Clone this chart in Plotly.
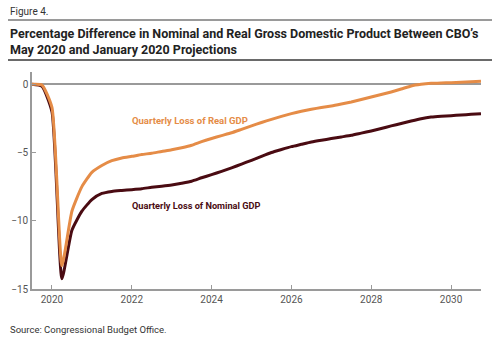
import plotly.graph_objects as go

# Quarterly observations, 2019 Q3 through 2030 Q4 (decimal years)
quarters = [2019.5 + 0.25 * i for i in range(46)]

real_gdp_loss = [
    0.0, -0.05,
    -1.7, -13.3, -9.3, -7.5,
    -6.45, -5.95, -5.6, -5.4,
    -5.28, -5.15, -5.05, -4.92,
    -4.8, -4.65, -4.47, -4.2,
    -3.97, -3.76, -3.55, -3.3,
    -3.05, -2.8, -2.57, -2.35,
    -2.15, -1.98, -1.83, -1.7,
    -1.59, -1.45, -1.3, -1.12,
    -0.93, -0.75, -0.56, -0.35,
    -0.12, 0.0, 0.07, 0.1,
    0.12, 0.15, 0.18, 0.22,
]

nominal_gdp_loss = [
    0.0, -0.15,
    -2.0, -14.25, -10.7, -9.3,
    -8.45, -8.0, -7.85, -7.78,
    -7.72, -7.65, -7.55, -7.47,
    -7.38, -7.25, -7.1, -6.85,
    -6.62, -6.38, -6.12, -5.85,
    -5.57, -5.28, -5.0, -4.78,
    -4.57, -4.4, -4.23, -4.1,
    -3.98, -3.86, -3.74, -3.58,
    -3.42, -3.24, -3.05, -2.87,
    -2.69, -2.52, -2.4, -2.34,
    -2.3, -2.25, -2.2, -2.15,
]

x_ticks = [2020, 2022, 2024, 2026, 2028, 2030]
y_ticks = [0, -5, -10, -15]

ORANGE = "#E58C47"
MAROON = "#4A0B12"
GRID = "#9a9a9a"

W, H = 500, 337
L, R, T, B = 32, 19, 72, 48


def px(xp):
    return (xp - L) / (W - L - R)


def py(yp):
    return (H - B - yp) / (H - T - B)


fig = go.Figure()
fig.add_trace(go.Scatter(x=quarters, y=nominal_gdp_loss, mode="lines",
                         line=dict(color=MAROON, width=3, shape="spline", smoothing=0.5),
                         hoverinfo="skip"))
fig.add_trace(go.Scatter(x=quarters, y=real_gdp_loss, mode="lines",
                         line=dict(color=ORANGE, width=3, shape="spline", smoothing=0.5),
                         hoverinfo="skip"))

font = "Roboto, Arial, sans-serif"

fig.update_layout(
    width=W, height=H,
    margin=dict(l=L, r=R, t=T, b=B),
    paper_bgcolor="white", plot_bgcolor="white",
    showlegend=False,
    font=dict(family=font, color="#555555", size=10),
    xaxis=dict(
        range=[2019.5, 2030.75], tickvals=x_ticks,
        showgrid=False, zeroline=False,
        showline=True, linecolor=GRID, linewidth=1.5,
        ticks="inside", ticklen=4, tickcolor=GRID, tickwidth=1,
        tickfont=dict(size=10, color="#555555"),
    ),
    yaxis=dict(
        range=[-15, 0.9], tickvals=y_ticks,
        showgrid=False, zeroline=True, zerolinecolor=GRID, zerolinewidth=1.5,
        showline=True, linecolor=GRID, linewidth=1.5,
        ticks="inside", ticklen=4, tickcolor=GRID, tickwidth=1,
        tickfont=dict(size=10, color="#555555"),
    ),
)

# Header rules
fig.add_shape(type="line", xref="paper", yref="paper",
              x0=px(8), x1=px(492), y0=py(20), y1=py(20),
              line=dict(color="#9a9a9a", width=2))
fig.add_shape(type="line", xref="paper", yref="paper",
              x0=px(8), x1=px(492), y0=py(60), y1=py(60),
              line=dict(color="#6a6a6a", width=2))

fig.add_annotation(text="Figure 4.", xref="paper", yref="paper",
                   x=px(8), y=py(11), xanchor="left", yanchor="middle",
                   showarrow=False, font=dict(size=10, color="#333333", family=font))
fig.add_annotation(
    text="<b>Percentage Difference in Nominal and Real Gross Domestic Product Between CBO’s<br>"
         "May 2020 and January 2020 Projections</b>",
    xref="paper", yref="paper", x=px(8), y=py(41), xanchor="left", yanchor="middle",
    align="left", showarrow=False,
    font=dict(size=12.5, color="#222222", family=font))

fig.add_annotation(text="<b>Quarterly Loss of Real GDP</b>", xref="paper", yref="paper",
                   x=px(130), y=py(120), xanchor="left", yanchor="middle",
                   showarrow=False, font=dict(size=9.5, color=ORANGE, family=font))
fig.add_annotation(text="<b>Quarterly Loss of Nominal GDP</b>", xref="paper", yref="paper",
                   x=px(130), y=py(205), xanchor="left", yanchor="middle",
                   showarrow=False, font=dict(size=9.2, color=MAROON, family=font))

fig.add_annotation(text="Source: Congressional Budget Office.", xref="paper", yref="paper",
                   x=px(8), y=py(329), xanchor="left", yanchor="middle",
                   showarrow=False, font=dict(size=9.5, color="#333333", family=font))

fig.write_html("out.html")
